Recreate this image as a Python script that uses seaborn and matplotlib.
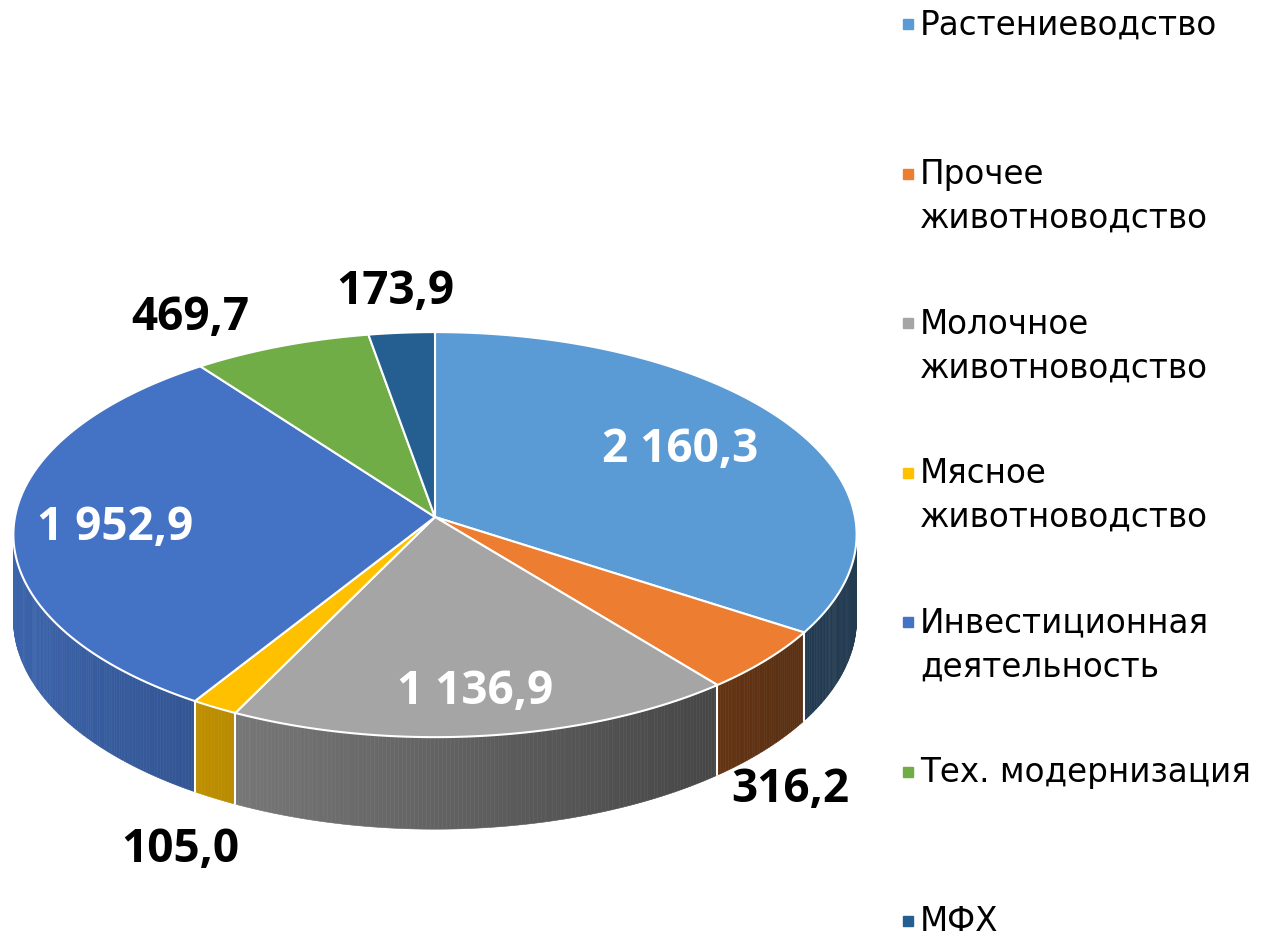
import numpy as np
import matplotlib
matplotlib.use("Agg")
import matplotlib.pyplot as plt
import seaborn as sns
from matplotlib.colors import to_rgb
from matplotlib.patches import Polygon

categories = ["Растениеводство", "Прочее\nживотноводство", "Молочное\nживотноводство",
              "Мясное\nживотноводство", "Инвестиционная\nдеятельность",
              "Тех. модернизация", "МФХ"]
values = [2160.3, 316.2, 1136.9, 105.0, 1952.9, 469.7, 173.9]
value_labels = ["2 160,3", "316,2", "1 136,9", "105,0", "1 952,9", "469,7", "173,9"]
colors = ["#5b9bd5", "#ed7d31", "#a5a5a5", "#ffc000", "#4472c4", "#70ad47", "#255e91"]

# layout (pixels)
W, H = 1262, 937
cx, cy, rx, ry = 435, 518, 420, 201
k = 0.087        # perspective strength
depth = 0.418    # thickness of the disc
label_pos = [(680, 450), (790, 790), (475, 692), (180, 850), (115, 528), (190, 318), (395, 292)]
label_white = [True, False, True, False, True, False, False]

sns.set_style("white")
plt.rcParams['font.family'] = ['DejaVu Sans']

fig = plt.figure(figsize=(W / 100, H / 100), dpi=100)
ax = fig.add_axes([0, 0, 1, 1])


def persp(x, y, drop=0.0):
    w = 1 + k * y
    return x / w, (y - drop) / w


# angles of wedges (start at top, clockwise)
total = sum(values)
cum = np.concatenate([[0], np.cumsum(values)]) / total * 360
theta_start = 90 - cum[:-1]
theta_end = 90 - cum[1:]
t_min = -180 + np.degrees(np.arcsin(k))
t_max = -np.degrees(np.arcsin(k))


def draw_side(t1, t2, color):
    lo, hi = max(t2, t_min), min(t1, t_max)
    if lo >= hi:
        return
    ts = np.linspace(lo, hi, int((hi - lo) / 0.5) + 2)
    base = np.array(to_rgb(color))
    for a, b in zip(ts[:-1], ts[1:]):
        th = np.radians([a, b])
        X, Y = np.cos(th), np.sin(th)
        xt, yt = persp(X, Y)
        xb, yb = persp(X, Y, depth)
        xs = np.r_[xt, xb[::-1]]
        ys = np.r_[yt, yb[::-1]]
        xm = np.cos(np.radians((a + b) / 2))
        c = base * np.clip(0.6 - 0.28 * xm, 0.38, 0.9)
        ax.fill(xs, ys, color=c, ec=c, lw=0.4, zorder=1)


for t1, t2, col in zip(theta_start, theta_end, colors):
    draw_side(t1, t2, col)

# white separators on the side wall
for t in theta_end:
    tt = ((t + 180) % 360) - 180
    if t_min < tt < t_max:
        X, Y = np.cos(np.radians(tt)), np.sin(np.radians(tt))
        x0, y0 = persp(X, Y)
        x1, y1 = persp(X, Y, depth)
        ax.plot([x0, x1], [y0, y1], color="white", lw=1.5, zorder=2)

# top face: pie wedges projected with the perspective
wedges, _ = ax.pie(values, colors=colors, startangle=90, counterclock=False)
tt = np.linspace(0, 1, 40)
for w, col in zip(wedges, colors):
    poly = np.vstack([seg(tt) for seg, _ in w.get_path().iter_bezier()])
    px, py = persp(poly[:, 0], poly[:, 1])
    ax.add_patch(Polygon(np.c_[px, py], closed=True, fc=col, ec="white",
                         lw=1.5, zorder=3))
    w.remove()

ax.set_aspect("auto")
ax.set_xlim(-cx / rx, (W - cx) / rx)
ax.set_ylim((cy - H) / ry, cy / ry)
ax.axis("off")

for txt, (px, py), white in zip(value_labels, label_pos, label_white):
    fig.text(px / W, 1 - py / H, txt, ha="center", va="center", fontsize=33,
             fontweight="bold", family=["Open Sans", "DejaVu Sans"],
             color="white" if white else "black")

# legend
for i, (name, col) in enumerate(zip(categories, colors)):
    py = 25 + 149.5 * i
    fig.add_artist(plt.Rectangle((903 / W, 1 - (py + 5) / H), 10 / W, 10 / H,
                                 transform=fig.transFigure, color=col))
    for j, line in enumerate(name.split("\n")):
        fig.text(920 / W, 1 - (py + 44 * j) / H, line, ha="left", va="center",
                 fontsize=23.5, color="black")

fig.savefig("out.png", dpi=100)
